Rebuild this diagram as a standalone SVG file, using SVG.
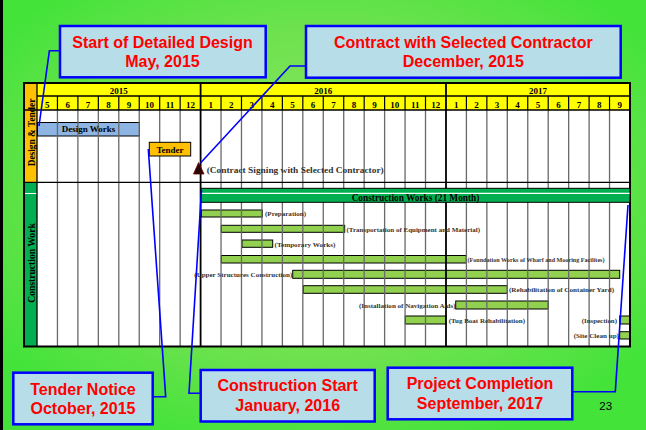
<svg xmlns="http://www.w3.org/2000/svg" width="646" height="430" viewBox="0 0 646 430">
<defs>
<radialGradient id="bg" cx="50%" cy="45%" r="62%">
<stop offset="0" stop-color="#92e566"/>
<stop offset="0.6" stop-color="#6fe24f"/>
<stop offset="1" stop-color="#43e33a"/>
</radialGradient>
<style>
.hdr{font-family:"Liberation Serif","Times New Roman",serif;font-weight:bold;font-size:9px;fill:#000;text-anchor:middle}
.lbl{font-family:"Liberation Serif","Times New Roman",serif;font-weight:bold;font-size:7px;fill:#333}
.bar{fill:#92d050;stroke:#000;stroke-width:1}
.grid{stroke:#6a6a6a;stroke-width:1.3;fill:none}
.co{fill:#b7dee8;stroke:#0000ff;stroke-width:2.5}
.cot{font-family:"Liberation Sans",Arial,sans-serif;font-weight:bold;font-size:16px;fill:#ff0000;text-anchor:middle}
.conn{stroke:#0000ff;stroke-width:1.6;fill:none}
</style>
</defs>
<rect x="0" y="0" width="646" height="430" fill="url(#bg)"/>
<rect x="0" y="0" width="3" height="430" fill="#000"/>

<g id="chart">
<rect x="24" y="83" width="606" height="263.5" fill="#fff"/>
<rect x="37" y="83" width="593" height="27" fill="#ffff00"/>
<rect x="24" y="83" width="13" height="99" fill="#ffc000"/>
<rect x="24" y="182" width="13" height="164.5" fill="#00b050"/>
<line x1="24" y1="193.5" x2="37" y2="193.5" stroke="#fff" stroke-width="1"/>
<text class="hdr" x="118.8" y="94">2015</text>
<text class="hdr" x="323.3" y="94">2016</text>
<text class="hdr" x="538" y="94">2017</text>
<g class="hdr">
<text x="47.2" y="108">5</text><text x="67.7" y="108">6</text><text x="88.1" y="108">7</text><text x="108.6" y="108">8</text><text x="129" y="108">9</text><text x="149.5" y="108">10</text><text x="169.9" y="108">11</text><text x="190.4" y="108">12</text>
<text x="210.8" y="108">1</text><text x="231.3" y="108">2</text><text x="251.7" y="108">3</text><text x="272.2" y="108">4</text><text x="292.6" y="108">5</text><text x="313.1" y="108">6</text><text x="333.5" y="108">7</text><text x="354" y="108">8</text><text x="374.4" y="108">9</text><text x="394.8" y="108">10</text><text x="415.3" y="108">11</text><text x="435.7" y="108">12</text>
<text x="456.2" y="108">1</text><text x="476.6" y="108">2</text><text x="497.1" y="108">3</text><text x="517.5" y="108">4</text><text x="538" y="108">5</text><text x="558.4" y="108">6</text><text x="578.9" y="108">7</text><text x="599.3" y="108">8</text><text x="619.8" y="108">9</text>
</g>
<text class="hdr" transform="translate(34.5,132.5) rotate(-90)" style="font-size:9.4px">Design &amp; Tender</text>
<text class="hdr" transform="translate(34.5,263) rotate(-90)" style="font-size:9.6px">Construction Work</text>
</g>

<g id="task-bars">
<rect id="design-works" x="37.5" y="122.5" width="102" height="13.5" fill="#8db4e2" stroke="#000" stroke-width="1"/>
<rect class="bar" x="201.3" y="210" width="61" height="7"/>
<rect class="bar" x="221.3" y="225.3" width="123.4" height="7"/>
<rect class="bar" x="242" y="240" width="30.7" height="7.3"/>
<rect class="bar" x="221.3" y="255.5" width="245" height="7.5"/>
<rect class="bar" x="292.7" y="270.3" width="327" height="8"/>
<rect class="bar" x="303.3" y="285.7" width="204" height="7.6"/>
<rect class="bar" x="455.7" y="301" width="92.6" height="8"/>
<rect class="bar" x="405.3" y="316" width="40.4" height="8"/>
<rect class="bar" x="619.7" y="316" width="10.3" height="8"/>
<rect class="bar" x="619.7" y="331.7" width="10.3" height="7.3"/>
</g>

<g id="grid">
<path class="grid" d="M57.45 110V346.5M77.9 110V346.5M98.34 110V346.5M118.79 110V346.5M139.24 110V346.5M159.69 110V346.5M180.14 110V346.5M221.03 110V346.5M241.48 110V346.5M261.93 110V346.5M282.38 110V346.5M302.82 110V346.5M323.27 110V346.5M343.72 110V346.5M364.17 110V346.5M384.62 110V346.5M405.06 110V346.5M425.51 110V346.5M466.41 110V346.5M486.86 110V346.5M507.3 110V346.5M527.75 110V346.5M548.2 110V346.5M568.65 110V346.5M589.1 110V346.5M609.54 110V346.5"/>
<path d="M57.45 96V110M77.9 96V110M98.34 96V110M118.79 96V110M139.24 96V110M159.69 96V110M180.14 96V110M221.03 96V110M241.48 96V110M261.93 96V110M282.38 96V110M302.82 96V110M323.27 96V110M343.72 96V110M364.17 96V110M384.62 96V110M405.06 96V110M425.51 96V110M466.41 96V110M486.86 96V110M507.3 96V110M527.75 96V110M548.2 96V110M568.65 96V110M589.1 96V110M609.54 96V110" stroke="#000" stroke-width="1.2" fill="none"/>
<path d="M200.6 83V346.5M446 83V346.5" stroke="#000" stroke-width="1.8" fill="none"/>
<path d="M37 96H630M24 110H630M24 182.3H630M37 83V346.5" stroke="#000" stroke-width="1.3" fill="none"/>
<rect x="24" y="83" width="606" height="263.5" fill="none" stroke="#000" stroke-width="2"/>
</g>

<g id="construction-works">
<rect x="201" y="188.3" width="429" height="14" fill="#00b050" stroke="#000" stroke-width="1"/>
<line x1="201.5" y1="193.3" x2="629.5" y2="193.3" stroke="#fff" stroke-width="1.2"/>
<text class="hdr" x="415.5" y="200.5" style="font-size:9.3px">Construction Works (21 Month)</text>
</g>

<g id="tender">
<rect x="149.3" y="142.3" width="41.4" height="13.7" fill="#ffc000" stroke="#000" stroke-width="1"/>
<text class="hdr" x="170" y="152.5">Tender</text>
</g>
<text class="hdr" x="88.5" y="132.3">Design Works</text>

<g id="contract-signing">
<polygon points="198.6,162.5 193.5,174 204,174" fill="#2a0505" stroke="#6b0000" stroke-width="0.8"/>
<text class="lbl" x="206.7" y="172.5" style="font-size:9px" textLength="177" lengthAdjust="spacingAndGlyphs">(Contract Signing with Selected Contractor)</text>
</g>

<g id="task-labels">
<text class="lbl" x="265" y="216" textLength="41" lengthAdjust="spacingAndGlyphs">(Preparation)</text>
<text class="lbl" x="346.5" y="231.5" textLength="133.5" lengthAdjust="spacingAndGlyphs">(Transportation of Equipment and Material)</text>
<text class="lbl" x="274.5" y="246.5" textLength="61" lengthAdjust="spacingAndGlyphs">(Temporary Works)</text>
<text class="lbl" x="467.5" y="262" style="font-size:6px" textLength="137" lengthAdjust="spacingAndGlyphs">(Foundation Works of Wharf and Mooring Facilites)</text>
<text class="lbl" x="194.3" y="277" textLength="98" lengthAdjust="spacingAndGlyphs">(Upper Structures Construction)</text>
<text class="lbl" x="509" y="292" textLength="105" lengthAdjust="spacingAndGlyphs">(Rehabilitation of Container Yard)</text>
<text class="lbl" x="359" y="308" textLength="96.5" lengthAdjust="spacingAndGlyphs">(Installation of Navigation Aids)</text>
<text class="lbl" x="448.7" y="323" textLength="76.3" lengthAdjust="spacingAndGlyphs">(Tug Boat Rehabilitation)</text>
<text class="lbl" x="581.7" y="323" textLength="35.3" lengthAdjust="spacingAndGlyphs">(Inspection)</text>
<text class="lbl" x="573.7" y="338" textLength="45.3" lengthAdjust="spacingAndGlyphs">(Site Clean up)</text>
</g>

<g id="connectors">
<polyline class="conn" points="60,50.7 49.4,50.7 39,126"/>
<polyline class="conn" points="306,66 290,66 200.5,163"/>
<polyline class="conn" points="152.7,396.7 165.7,396.7 148.3,149"/>
<polyline class="conn" points="200.7,393.3 189,393.3 201.5,190"/>
<polyline class="conn" points="572.3,391.7 615.3,391.7 628,205"/>
</g>

<g id="callout-design">
<rect class="co" x="60" y="26" width="205.7" height="51.3"/>
<text class="cot" x="162.5" y="48.3">Start of Detailed Design</text>
<text class="cot" x="162.5" y="66.7">May, 2015</text>
</g>
<g id="callout-contract">
<rect class="co" x="306" y="26" width="314.7" height="51.7"/>
<text class="cot" x="463.3" y="48.3">Contract with Selected Contractor</text>
<text class="cot" x="463.3" y="67.3">December, 2015</text>
</g>
<g id="callout-tender">
<rect class="co" x="13.3" y="372.7" width="139.4" height="51.6"/>
<text class="cot" x="83" y="394.5">Tender Notice</text>
<text class="cot" x="83" y="414">October, 2015</text>
</g>
<g id="callout-start">
<rect class="co" x="200.7" y="370" width="174" height="51.5"/>
<text class="cot" x="287.7" y="391">Construction Start</text>
<text class="cot" x="287.7" y="411">January, 2016</text>
</g>
<g id="callout-completion">
<rect class="co" x="387.7" y="367.7" width="184.6" height="51.6"/>
<text class="cot" x="480" y="389.3">Project Completion</text>
<text class="cot" x="480" y="409.3">September, 2017</text>
</g>
<text x="605.7" y="410" font-family="'Liberation Sans',Arial,sans-serif" font-size="11.5" text-anchor="middle" fill="#000">23</text>
</svg>
